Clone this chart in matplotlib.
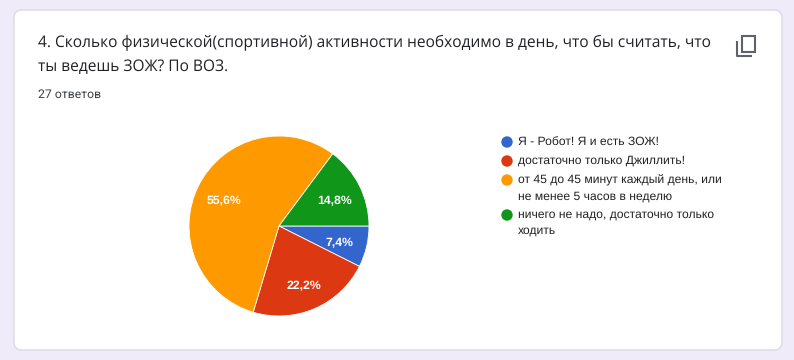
import math
import matplotlib
matplotlib.use("Agg")
import matplotlib.pyplot as plt
from matplotlib.patches import FancyBboxPatch, Rectangle, Circle

plt.rcParams["text.hinting"] = "no_hinting"

title_lines = ["4. Сколько физической(спортивной) активности необходимо в день, что бы считать, что",
               "ты ведешь ЗОЖ? По ВОЗ."]
answers = "27 ответов"
counts = [2, 6, 15, 4]
pct_labels = ["7,4%", "22,2%", "55,6%", "14,8%"]
colors = ["#3366cc", "#dc3912", "#ff9900", "#109618"]
legend_items = [["Я - Робот! Я и есть ЗОЖ!"],
                ["достаточно только Джиллить!"],
                ["от 45 до 45 минут каждый день, или", "не менее 5 часов в неделю"],
                ["ничего не надо, достаточно только", "ходить"]]
legend_y = [142, 161, 180, 215]

W, H = 794, 360
fig = plt.figure(figsize=(W / 100, H / 100), dpi=100, facecolor="#efebf8")
ax = fig.add_axes([0, 0, 1, 1])
ax.set_xlim(0, W)
ax.set_ylim(H, 0)
ax.axis("off")

# card
ax.add_patch(FancyBboxPatch((14, 10), 768, 340, boxstyle="round,pad=0,rounding_size=8",
                            fc="white", ec="#dcd9e2", lw=1))

for i, line in enumerate(title_lines):
    ax.text(38, 42.5 + i * 24, line, family="Open Sans", fontsize=11.2, color="#202124", va="center")
ax.text(38, 95, answers, family="Roboto", fontsize=8.8, color="#3c4043", va="center")

# copy icon
ax.add_patch(Rectangle((741.5, 36), 13, 16, fc="none", ec="#5f6368", lw=1.5))
ax.plot([737, 737, 752], [41, 56, 56], color="#5f6368", lw=1.5, solid_capstyle="butt")

# pie, in a separate axes placed in pixels so y points up
cx, cy, r = 279, 226, 90
pie_ax = fig.add_axes([(cx - r) / W, 1 - (cy + r) / H, 2 * r / W, 2 * r / H])
wedges, texts = pie_ax.pie(counts, colors=colors, startangle=0, counterclock=False, radius=1,
                           wedgeprops={"edgecolor": "white", "linewidth": 0.6})
pie_ax.set_xlim(-1, 1)
pie_ax.set_ylim(-1, 1)

start = 0
for c, lab in zip(counts, pct_labels):
    mid = start + c / sum(counts) * 180
    a = math.radians(mid)
    pie_ax.text(0.69 * math.cos(a), -0.69 * math.sin(a) - 0.03, lab, color="white", ha="center", va="center",
                family="Liberation Sans", fontsize=8.8, fontweight="bold")
    start += c / sum(counts) * 360

# legend
for col, lines, y in zip(colors, legend_items, legend_y):
    ax.add_patch(Circle((507, y), 5.7, fc=col, ec="none"))
    for j, line in enumerate(lines):
        ax.text(518, y + j * 16, line, family="Liberation Sans", fontsize=8.7, color="#222222", va="center")

fig.savefig("out.png", dpi=100, facecolor=fig.get_facecolor())
